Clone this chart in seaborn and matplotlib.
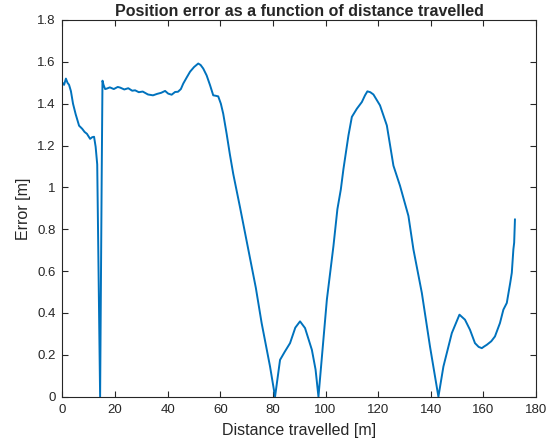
import numpy as np
import pandas as pd
import matplotlib
matplotlib.use("Agg")
import matplotlib.pyplot as plt
import seaborn as sns

# --- values (distance [m], error [m]) ---
distance = [
    0.0, 0.6, 1.3, 1.9, 2.5, 3.2, 4.0, 5.0, 6.3, 7.5, 8.4, 9.3, 10.5, 11.3, 12.0,
    12.6, 13.2, 14.3, 14.9, 15.2, 15.6, 16.2, 16.8, 18.0, 19.5, 21.0, 21.9, 23.5,
    25.0, 26.5, 27.6, 29.0, 30.5, 32.5, 34.4, 36.0, 37.5, 39.0, 40.2, 41.5, 42.8,
    43.9, 45.0, 45.9, 47.2, 48.5, 50.0, 51.6, 52.5, 53.5, 54.8, 56.1, 57.3, 58.2,
    59.2, 60.2, 61.1, 62.4, 63.6, 64.9, 67.5, 71.0, 73.5, 75.7, 78.9, 80.8, 82.7,
    84.5, 86.5, 88.5, 90.3, 92.2, 94.8, 96.2, 97.3, 100.5, 103.0, 104.5, 105.8,
    106.8, 108.7, 110.0, 111.9, 113.8, 115.0, 115.9, 117.0, 118.2, 120.7, 123.3,
    125.8, 128.3, 131.5, 133.4, 136.6, 139.7, 142.9, 144.8, 148.0, 150.9, 153.0,
    154.9, 156.8, 158.2, 159.4, 160.3, 161.3, 163.0, 164.4, 166.3, 167.6, 168.9,
    170.2, 170.8, 171.4, 171.7, 172.0,
]
error = [
    1.50, 1.49, 1.52, 1.50, 1.49, 1.46, 1.40, 1.35, 1.295, 1.28, 1.265, 1.256, 1.232,
    1.24, 1.242, 1.194, 1.11, 0.0, 1.05, 1.51, 1.49, 1.47, 1.472, 1.478, 1.470,
    1.480, 1.477, 1.468, 1.474, 1.462, 1.464, 1.455, 1.458, 1.444, 1.440, 1.447,
    1.452, 1.461, 1.448, 1.443, 1.456, 1.457, 1.470, 1.496, 1.525, 1.553, 1.575,
    1.592, 1.585, 1.568, 1.535, 1.488, 1.44, 1.438, 1.435, 1.40, 1.352, 1.256, 1.16,
    1.065, 0.904, 0.68, 0.52, 0.352, 0.144, 0.0, 0.176, 0.215, 0.256, 0.33, 0.36,
    0.328, 0.224, 0.13, 0.0, 0.464, 0.72, 0.896, 0.99, 1.088, 1.248, 1.337, 1.376,
    1.408, 1.44, 1.459, 1.455, 1.444, 1.392, 1.296, 1.104, 1.008, 0.864, 0.704,
    0.496, 0.24, 0.0, 0.144, 0.304, 0.392, 0.368, 0.32, 0.256, 0.238, 0.232, 0.24,
    0.248, 0.265, 0.288, 0.352, 0.416, 0.448, 0.544, 0.592, 0.704, 0.736, 0.848,
]

x_ticks = [0, 20, 40, 60, 80, 100, 120, 140, 160, 180]
y_ticks = [0, 0.2, 0.4, 0.6, 0.8, 1.0, 1.2, 1.4, 1.6, 1.8]
y_tick_labels = ["0", "0.2", "0.4", "0.6", "0.8", "1", "1.2", "1.4", "1.6", "1.8"]

sns.set_theme(style="ticks")
plt.rcParams["font.family"] = ["Liberation Sans", "DejaVu Sans"]

df = pd.DataFrame({"distance": distance, "error": error})

fig = plt.figure(figsize=(5.57, 4.47), dpi=100)
ax = fig.add_axes([0.1122, 0.1125, 0.8501, 0.8428])
sns.lineplot(data=df, x="distance", y="error", ax=ax, color="#0072BD",
             linewidth=1.4, sort=False, estimator=None)

ax.set_xlim(0, 180)
ax.set_ylim(0, 1.8)
ax.set_xticks(x_ticks)
ax.set_yticks(y_ticks)
ax.set_yticklabels(y_tick_labels)
ax.tick_params(direction="in", top=True, right=True, length=4, width=0.8,
               colors="#262626", labelsize=9.5, pad=5)
for s in ax.spines.values():
    s.set_color("#262626")
    s.set_linewidth(0.8)
ax.set_xlabel("Distance travelled [m]", fontsize=11.5, labelpad=5)
ax.set_ylabel("Error [m]", fontsize=11.5, labelpad=4)
ax.set_title("Position error as a function of distance travelled",
             fontsize=11.5, fontweight="bold", pad=3)

fig.savefig("out.png", dpi=100)
